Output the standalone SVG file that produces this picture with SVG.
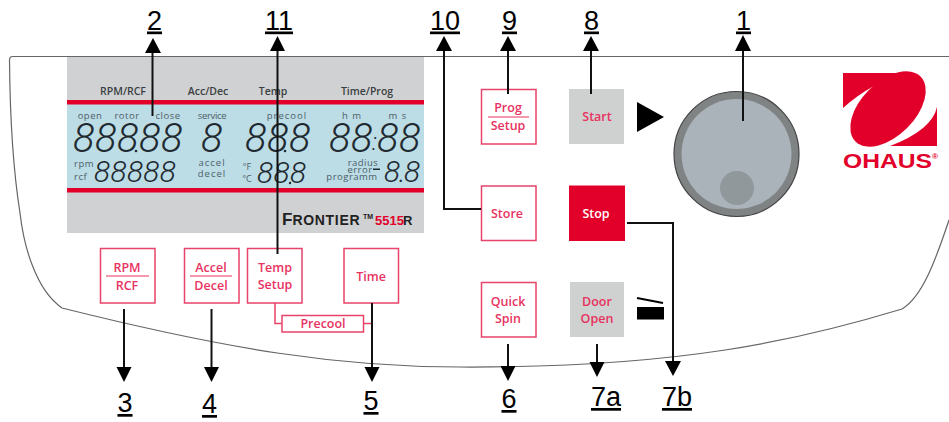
<svg xmlns="http://www.w3.org/2000/svg" width="949" height="422" viewBox="0 0 949 422">
<style>
text{font-family:"Liberation Sans",Arial,sans-serif}
.btn{fill:#fff;stroke:#e8436b;stroke-width:1.5}
.gray{fill:#cfd0d0;stroke:none}
.bt{font-family:"Open Sans","Liberation Sans",sans-serif;font-size:12.5px;font-weight:600;fill:#e8325f;text-anchor:middle}
.div{stroke:#e8325f;stroke-width:1.2}
.head{font-family:"Open Sans","Liberation Sans",sans-serif;font-size:10.500px;font-weight:600;fill:#3a3f42;text-anchor:middle}
.lc{font-family:"Open Sans","Liberation Sans",sans-serif;font-size:9.5px;fill:#4d6068;text-anchor:middle;letter-spacing:.5px}
.dg{font-family:"Roboto","Liberation Sans",sans-serif;font-style:italic;font-weight:300;fill:#1f2a30}
.d1{font-size:40px;letter-spacing:.5px}
.d2{font-size:30px;letter-spacing:.3px}
.num{font-size:27px;fill:#000;text-anchor:middle;text-decoration:underline;text-decoration-thickness:3.5px;text-underline-offset:2px}
.ln{fill:none;stroke:#111;stroke-width:2}
.pl{fill:none;stroke:#e8436b;stroke-width:1.5}
.ah{fill:#000}
</style>
<g id="panel"><path d="M949,220 C935,262 922,297 902,309 C800,340 680,368 460,367 C340,367 230,350 62,308 C48,298 40,285 33,267 C26,250 22,230 20,213 C14,175 10,120 9.500,60 Q9.500,56.500 13,56.500 H949" fill="none" stroke="#666" stroke-width="1.200"/></g>
<g id="display">
<rect x="67" y="57" width="357" height="176" fill="#d0d1d2"/>
<rect x="67" y="104" width="357" height="84" fill="#bcdce6"/>
<rect x="67" y="100" width="357" height="4.500" fill="#e2002a"/>
<rect x="67" y="188" width="357" height="4.500" fill="#e2002a"/>
<text class="head" x="123" y="95">RPM/RCF</text>
<text class="head" x="208" y="95">Acc/Dec</text>
<text class="head" x="273" y="95">Temp</text>
<text class="head" x="367" y="95">Time/Prog</text>
<text class="lc" x="90" y="119">open</text>
<text class="lc" x="127" y="119">rotor</text>
<text class="lc" x="168" y="119">close</text>
<text class="lc" x="212" y="119" style="letter-spacing:-.3px">service</text>
<text class="lc" x="287" y="119" style="letter-spacing:1px">precool</text>
<text class="lc" x="352" y="119" style="letter-spacing:1px">h m</text>
<text class="lc" x="398" y="119" style="letter-spacing:1px">m s</text>
<text class="dg d1" x="73" y="152">88888</text>
<circle cx="136" cy="151" r="1.300" fill="#1f2a30"/>
<text class="dg d1" x="201" y="152">8</text>
<text class="dg d1" x="245" y="152">888</text>
<circle cx="285" cy="151" r="1.300" fill="#1f2a30"/>
<text class="dg d1" x="329" y="152">88</text>
<text class="dg d1" x="372" y="150" style="font-size:24px">:</text>
<text class="dg d1" x="377" y="152">88</text>
<text class="lc" x="74" y="167" style="text-anchor:start">rpm</text>
<text class="lc" x="74" y="180" style="text-anchor:start">rcf</text>
<text class="dg d2" x="94" y="182">88888</text>
<text class="lc" x="212" y="166" style="letter-spacing:1px">accel</text>
<text class="lc" x="212" y="177" style="letter-spacing:1px">decel</text>
<text class="lc" x="247" y="170" style="font-size:9px;letter-spacing:0">°F</text>
<text class="lc" x="247" y="182" style="font-size:9px;letter-spacing:0">°C</text>
<text class="dg d2" x="257" y="183">888</text>
<circle cx="290" cy="183" r="1.200" fill="#1f2a30"/>
<text class="lc" x="363" y="166">radius</text>
<text class="lc" x="360" y="173">error</text>
<text class="lc" x="352" y="180">programm</text>
<rect x="373" y="168.500" width="7" height="1.500" fill="#1f2a30"/>
<text class="dg d2" x="384" y="182" style="letter-spacing:-1.500px">8.8</text>
<text y="225" font-size="14" font-weight="700" fill="#222"><tspan x="282" font-size="17">F</tspan><tspan style="letter-spacing:.7px">RONTIER</tspan><tspan x="363" font-size="7" dy="-6">TM</tspan><tspan x="375" dy="6" fill="#e2002a" font-size="13">5515</tspan><tspan x="403" font-size="13">R</tspan></text>
</g>
<g id="btn-rpm"><rect class="btn" x="100.500" y="248.500" width="54.500" height="54.500"/><text class="bt" x="127" y="272">RPM</text><line class="div" x1="106" y1="276" x2="149" y2="276"/><text class="bt" x="127" y="290">RCF</text></g>
<g id="btn-accel"><rect class="btn" x="184.500" y="248.500" width="54.500" height="54.500"/><text class="bt" x="211" y="272">Accel</text><line class="div" x1="190" y1="276" x2="232" y2="276"/><text class="bt" x="211" y="290">Decel</text></g>
<g id="btn-temp"><rect class="btn" x="247.500" y="248.500" width="54.500" height="54.500"/><text class="bt" x="275" y="272">Temp</text><text class="bt" x="275" y="289">Setup</text></g>
<g id="btn-time"><rect class="btn" x="344" y="248.500" width="54.500" height="54.500"/><text class="bt" x="371" y="281">Time</text></g>
<g id="precool"><rect class="btn" x="282" y="315.500" width="81.500" height="16.500"/><text class="bt" x="323" y="328">Precool</text><path class="pl" d="M275,303 V323.500 H282 M363.500,323.500 H372 V303"/></g>
<g id="btn-prog"><rect class="btn" x="481.500" y="89.500" width="54.500" height="54.500"/><text class="bt" x="508" y="112">Prog</text><line class="div" x1="488" y1="117" x2="529" y2="117"/><text class="bt" x="508" y="130">Setup</text></g>
<g id="btn-start"><rect class="gray" x="569" y="89" width="55" height="55"/><text class="bt" x="597" y="121">Start</text></g>
<g id="btn-store"><rect class="btn" x="481.500" y="186" width="54.500" height="54.500"/><text class="bt" x="507" y="218">Store</text></g>
<g id="btn-stop"><rect x="569" y="185.500" width="56" height="55.500" fill="#e2002a"/><text class="bt" x="596" y="218" style="fill:#fff">Stop</text></g>
<g id="btn-quick"><rect class="btn" x="481.500" y="282.500" width="54.500" height="54.500"/><text class="bt" x="508" y="306">Quick</text><text class="bt" x="508" y="323">Spin</text></g>
<g id="btn-door"><rect class="gray" x="570" y="282" width="54" height="55"/><text class="bt" x="597" y="306">Door</text><text class="bt" x="597" y="323">Open</text></g>
<g id="start-icon"><polygon points="637,102 664,117 637,132" fill="#000"/></g>
<g id="door-icon"><line x1="637" y1="298" x2="663" y2="303" stroke="#000" stroke-width="1.800"/><rect x="637" y="307" width="27" height="12.500" fill="#000"/></g>
<g id="knob"><circle cx="736.500" cy="154" r="62.500" fill="#7f8384" stroke="#444" stroke-width="1.200"/><circle cx="736.500" cy="154" r="55" fill="#a9b3b9"/><circle cx="737" cy="188" r="17" fill="#90989c"/></g>
<g id="logo">
<path d="M843,73 H907 Q872,82 843,108 Z" fill="#e2002a"/>
<path d="M937,107 V146 H890 Q932,130 937,107 Z" fill="#e2002a"/>
<ellipse cx="888" cy="109" rx="46" ry="27" transform="rotate(-45 888 109)" fill="#e2002a"/>
<text x="843" y="168" font-size="21" font-weight="700" fill="#e2002a" textLength="95" lengthAdjust="spacingAndGlyphs">OHAUS<tspan font-size="7" dy="-9">®</tspan></text>
</g>
<g id="connectors">
<path class="ln" d="M152.500,116 V50"/><polygon class="ah" points="153,38 161,53 145,53"/>
<path class="ln" d="M277.500,254 V48"/><polygon class="ah" points="277.500,36 285,51 270,51"/>
<path class="ln" d="M481,209 H444 V48"/><polygon class="ah" points="444,36 452,51 436,51"/>
<path class="ln" d="M508,94 V48"/><polygon class="ah" points="508,36 516,51 500,51"/>
<path class="ln" d="M591,94 V48"/><polygon class="ah" points="591,36 599,51 583,51"/>
<path class="ln" d="M743,121 V48"/><polygon class="ah" points="743,35 751,51 735,51"/>
<path class="ln" d="M124,309 V370"/><polygon class="ah" points="124,382 116.500,367 131.500,367"/>
<path class="ln" d="M211.500,309 V370"/><polygon class="ah" points="211.500,382 204,367 219,367"/>
<path class="ln" d="M372,303 V370"/><polygon class="ah" points="372,382 364.500,367 379.500,367"/>
<path class="ln" d="M508,344 V369"/><polygon class="ah" points="508,381 500.500,366 515.500,366"/>
<path class="ln" d="M597,344 V365"/><polygon class="ah" points="597,377 589.500,362 604.500,362"/>
<path class="ln" d="M627,223 H673 V364"/><polygon class="ah" points="673,376 665,361 681,361"/>
</g>
<g id="labels">
<text class="num" x="154.500" y="29.500">2</text>
<text class="num" x="279" y="29.500">11</text>
<text class="num" x="445" y="29.500">10</text>
<text class="num" x="509.500" y="29.500">9</text>
<text class="num" x="591.500" y="29.500">8</text>
<text class="num" x="743.500" y="29.500">1</text>
<text class="num" x="125" y="412">3</text>
<text class="num" x="209.500" y="413">4</text>
<text class="num" x="371" y="410">5</text>
<text class="num" x="509" y="408">6</text>
<text class="num" x="606" y="406">7a</text>
<text class="num" x="677" y="406">7b</text>
</g>
</svg>
